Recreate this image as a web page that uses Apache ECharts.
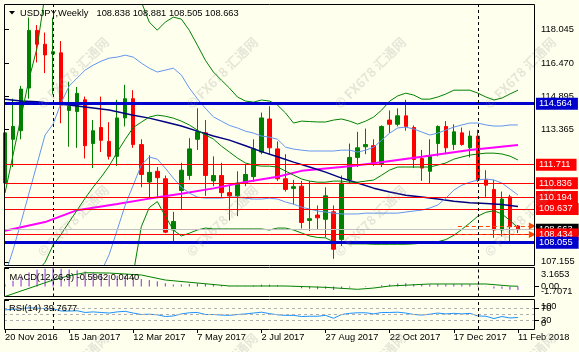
<!DOCTYPE html>
<html>
<head>
<meta charset="utf-8">
<title>USDJPY Weekly</title>
<script src="https://cdn.jsdelivr.net/npm/echarts/dist/echarts.min.js"></script>
<style>
  html, body { margin: 0; padding: 0; background: #ffffee; }
  #chart { width: 579px; height: 352px; }
</style>
</head>
<body>
<div id="chart"></div>
<script>
const FONT = '"Liberation Sans", Arial, sans-serif'
const FS = 9.3

const symbolName = 'USDJPY,Weekly'
const axisDates = ['20 Nov 2016', '15 Jan 2017', '12 Mar 2017', '7 May 2017', '2 Jul 2017',
  '27 Aug 2017', '22 Oct 2017', '17 Dec 2017', '11 Feb 2018']
const axisDateWeek = [0, 8, 16, 24, 32, 40, 48, 56, 64]
const yearMarks = [6, 59]

// weekly bars, week 0 = 20 Nov 2016
const opens = [110.85, 112.9, 113.3, 115.3, 118.0, 117.35, 116.9, 116.95, 114.25, 114.2,
  114.75, 112.7, 113.45, 112.8, 112.1, 113.9, 114.8, 112.65, 110.9, 111.4,
  111.05, 108.65, 110.5, 111.2, 112.9, 113.2, 110.95, 111.2, 110.4, 110.25,
  110.85, 111.15, 112.3, 113.85, 112.45, 111.05, 110.6, 110.7, 109.1, 109.35,
  109.15, 109.5, 108.2, 111.0, 112.05, 112.55, 112.6, 111.75, 113.8, 113.6,
  114.0, 113.45, 112.0, 111.4, 112.7, 113.5, 112.65, 113.2, 112.5, 113.05,
  111.0, 110.55, 108.65, 110.2, 108.838]
const highs = [113.9, 114.8, 115.4, 118.6, 118.25, 117.9, 118.6, 117.5, 115.6, 115.35,
  114.9, 113.8, 114.9, 113.7, 114.75, 115.45, 115.2, 112.9, 112.15, 111.6,
  111.2, 109.5, 111.8, 112.95, 114.35, 113.8, 112.1, 111.8, 110.75, 111.4,
  111.75, 112.9, 114.15, 114.45, 112.8, 112.2, 111.0, 110.95, 110.95, 109.8,
  110.65, 109.8, 111.2, 112.7, 113.25, 113.4, 112.9, 113.55, 114.25, 114.35,
  114.75, 113.55, 112.4, 112.9, 113.55, 113.75, 113.6, 113.45, 113.3, 113.35,
  111.45, 111.0, 110.45, 110.3, 108.881]
const lows = [110.25, 111.6, 112.9, 114.8, 116.5, 116.0, 115.0, 113.65, 112.55, 112.5,
  112.0, 111.55, 112.3, 111.95, 111.65, 113.5, 112.5, 110.65, 110.1, 110.2,
  108.5, 108.13, 109.6, 111.0, 112.4, 110.25, 110.7, 110.2, 109.1, 109.3,
  110.7, 110.9, 112.2, 112.2, 110.95, 110.45, 109.85, 108.72, 108.6, 108.65,
  108.3, 107.3, 107.9, 110.8, 111.6, 112.2, 111.65, 111.6, 113.2, 113.5,
  113.3, 111.55, 110.95, 110.85, 112.1, 112.2, 112.4, 112.6, 112.05, 110.9,
  110.2, 108.28, 108.35, 108.05, 108.505]
const closes = [113.2, 113.5, 115.25, 118.0, 117.35, 116.85, 117.0, 114.5, 114.45, 115.05,
  112.6, 113.3, 112.85, 112.1, 113.9, 114.8, 112.65, 111.25, 111.35, 111.1,
  108.55, 109.05, 111.45, 112.45, 113.25, 111.2, 111.2, 110.4, 110.25, 110.85,
  111.25, 112.45, 113.9, 112.5, 111.05, 110.55, 110.68, 109.0, 109.18, 109.22,
  110.25, 107.75, 110.85, 112.05, 112.5, 112.65, 111.8, 113.5, 113.6, 114.0,
  113.5, 111.95, 111.55, 112.1, 113.5, 112.5, 113.25, 112.65, 113.05, 111.0,
  110.75, 108.65, 110.1, 108.8, 108.663]

const priceTicks = [118.045, 116.470, 114.895, 113.365, 107.155]
const blueLevels = [114.564, 108.055]
const redLevels = [111.711, 110.836, 110.194, 109.637, 108.434]
const bidLevel = 108.663
const orderLevels = [108.838, 108.434]

// indicator lines, [week, price]
const bbUpper2 = [[0, 110.38], [1, 112.16], [2, 113.94], [3, 115.72], [4, 117.18], [5, 119.7], [6, 120.8],
  [8, 121.5], [11, 121.6], [14, 120.8], [16, 119.8], [17, 119.35], [18, 118.39], [19, 118.01], [20, 118.39],
  [21, 118.62], [22, 118.53], [23, 118.0], [24, 117.31], [25, 116.6], [26, 116.05], [27, 115.67], [28, 115.3],
  [29, 114.88], [30, 114.69], [31, 114.64], [32, 114.74], [33, 114.69], [34, 114.5], [35, 114.13], [36, 113.66],
  [37, 113.75], [38, 113.73], [39, 113.71], [40, 113.71], [41, 113.8], [42, 113.85], [43, 113.75], [44, 113.61],
  [45, 113.75], [46, 113.94], [47, 114.27], [48, 114.69], [49, 114.93], [50, 115.06], [51, 114.97], [52, 114.78],
  [53, 114.78], [54, 114.88], [55, 115.02], [56, 115.2], [57, 115.2], [58, 115.2], [59, 115.06], [60, 114.88],
  [61, 114.74], [62, 114.83], [63, 115.02], [64, 115.2]]
const bbMiddle = [[0, 104.6], [2, 105.6], [4, 106.7], [5, 107.14], [6, 107.94], [7, 108.45], [8, 109.02],
  [9, 109.58], [10, 110.14], [11, 110.66], [12, 111.13], [13, 111.65], [14, 112.3], [15, 112.9], [16, 113.45],
  [17, 113.7], [18, 113.94], [19, 114.03], [20, 113.98], [21, 113.89], [22, 113.75], [23, 113.57], [24, 113.33],
  [25, 113.1], [26, 112.91], [27, 112.58], [28, 112.3], [29, 112.02], [30, 111.79], [31, 111.69], [32, 111.64],
  [33, 111.64], [34, 111.6], [35, 111.41], [36, 111.22], [37, 111.04], [38, 110.94], [39, 110.89], [40, 110.89],
  [41, 110.94], [42, 110.94], [43, 110.89], [44, 110.89], [45, 110.94], [46, 110.99], [47, 111.22], [48, 111.46],
  [49, 111.6], [50, 111.6], [51, 111.6], [52, 111.6], [53, 111.6], [54, 111.69], [55, 111.79], [56, 111.97],
  [57, 112.07], [58, 112.16], [59, 112.21], [60, 112.25], [61, 112.25], [62, 112.21], [63, 112.11], [64, 111.93]]
const bbLower2 = [[16, 106.6], [17, 108.8], [18, 109.7], [19, 109.98], [20, 109.3], [21, 108.65], [22, 108.37],
  [23, 108.5], [24, 108.65], [25, 108.74], [26, 108.7], [27, 108.7], [28, 108.7], [29, 108.7], [30, 108.7],
  [31, 108.7], [32, 108.7], [33, 108.65], [34, 108.74], [35, 108.74], [36, 108.65], [37, 108.51], [38, 108.37],
  [39, 108.3], [40, 108.28], [41, 108.1], [42, 108.03], [43, 108.0], [44, 108.0], [45, 108.0], [46, 107.98],
  [47, 107.98], [48, 107.98], [49, 107.98], [50, 107.98], [51, 108.0], [52, 108.03], [53, 108.06], [54, 108.1],
  [55, 108.2], [56, 108.4], [57, 108.68], [58, 108.98], [59, 109.3], [60, 109.48], [61, 109.55], [62, 109.4],
  [63, 109.1], [64, 108.75]]
const bbUpper1 = [[0, 106.54], [1, 107.71], [2, 109.02], [3, 110.38], [4, 111.74], [5, 113.1], [6, 113.61],
  [7, 114.6], [8, 115.39], [9, 115.77], [10, 116.14], [11, 116.37], [12, 116.56], [13, 116.7], [14, 116.75],
  [15, 116.84], [16, 116.75], [17, 116.47], [18, 116.23], [19, 116.05], [20, 116.14], [21, 116.23], [22, 115.91],
  [23, 115.3], [24, 114.8], [25, 114.35], [26, 113.95], [27, 113.75], [28, 113.55], [29, 113.43], [30, 113.28],
  [31, 113.19], [32, 113.05], [33, 113.0], [34, 112.9], [35, 112.53], [36, 112.44], [37, 112.39], [38, 112.35],
  [39, 112.35], [40, 112.35], [41, 112.35], [42, 112.39], [43, 112.39], [44, 112.3], [45, 112.39], [46, 112.53],
  [47, 112.86], [48, 113.19], [49, 113.43], [50, 113.47], [51, 113.38], [52, 113.24], [53, 113.1], [54, 113.19],
  [55, 113.33], [56, 113.47], [57, 113.57], [58, 113.66], [59, 113.66], [60, 113.57], [61, 113.52], [62, 113.52],
  [63, 113.57], [64, 113.57]]
const bbLower1 = [[12, 106.7], [13, 107.5], [14, 108.65], [15, 109.82], [16, 110.75], [17, 111.69], [18, 112.07],
  [19, 111.97], [20, 111.55], [21, 111.08], [22, 110.66], [23, 110.38], [24, 110.19], [25, 110.14], [26, 110.14],
  [27, 110.14], [28, 110.19], [29, 110.19], [30, 110.14], [31, 110.1], [32, 110.1], [33, 110.14], [34, 110.1],
  [35, 109.96], [36, 109.86], [37, 109.72], [38, 109.63], [39, 109.54], [40, 109.49], [41, 109.44], [42, 109.4],
  [43, 109.4], [44, 109.4], [45, 109.44], [46, 109.44], [47, 109.44], [48, 109.44], [49, 109.44], [50, 109.49],
  [51, 109.54], [52, 109.58], [53, 109.68], [54, 109.82], [55, 110.14], [56, 110.52], [57, 110.75], [58, 110.89],
  [59, 110.99], [60, 111.04], [61, 110.99], [62, 110.85], [63, 110.57], [64, 110.29]]
const navyMA = [[0, 114.78], [2, 114.69], [4, 114.66], [6, 114.58], [8, 114.5], [10, 114.41], [13, 114.27],
  [16, 114.03], [18, 113.89], [20, 113.71], [22, 113.52], [24, 113.28], [26, 113.05], [28, 112.86], [30, 112.6],
  [32, 112.32], [34, 112.08], [36, 111.83], [38, 111.6], [40, 111.36], [42, 111.08], [44, 110.85], [46, 110.61],
  [48, 110.43], [50, 110.28], [52, 110.19], [54, 110.1], [56, 110.0], [58, 109.93], [60, 109.89], [62, 109.84],
  [64, 109.75]]
const magentaMA = [[0, 108.61], [5, 109.02], [9, 109.58], [14, 109.87], [18, 110.12], [22, 110.35], [26, 110.6],
  [30, 110.9], [34, 111.14], [37, 111.42], [43, 111.64], [46, 111.78], [52, 112.08], [58, 112.4], [64, 112.63]]

const macdMain = [0.35, 1.0, 1.7, 2.4, 2.85, 3.05, 3.1653, 3.05, 2.9, 2.8,
  2.55, 2.35, 2.15, 1.95, 1.85, 1.8, 1.6, 1.3, 1.1, 0.9,
  0.55, 0.35, 0.35, 0.45, 0.55, 0.45, 0.35, 0.2, 0.1, 0.05,
  0.05, 0.15, 0.3, 0.3, 0.2, 0.05, -0.1, -0.3, -0.4, -0.45,
  -0.4, -0.6, -0.4, -0.15, 0.0, 0.1, 0.05, 0.2, 0.35, 0.5,
  0.55, 0.45, 0.35, 0.35, 0.4, 0.35, 0.4, 0.35, 0.35, 0.15,
  -0.05, -0.35, -0.4, -0.55, -0.5962]
const macdSignal = [[0, -1.7071], [3, -0.3], [6, 1.11], [8, 1.85], [10, 2.36], [13, 2.3], [17, 1.97],
  [20, 1.11], [24, 0.6], [28, 0.09], [35, 0.09], [40, -0.14], [44, -0.48], [46, -0.26], [48, 0.09],
  [53, 0.43], [60, 0.43], [63, 0.09], [64, 0.044]]
const macdRange = [-1.7071, 3.1653]
const macdZero = [0]

const rsi = [66, 68, 70, 73, 72, 70, 70, 62, 62, 63,
  57, 59, 57, 55, 59, 61, 55, 50, 51, 49,
  43, 45, 52, 56, 57, 50, 50, 48, 47, 50,
  52, 55, 58, 53, 49, 47, 47, 43, 44, 44,
  47, 37, 50, 54, 56, 56, 52, 57, 57, 58,
  55, 50, 48, 51, 55, 52, 54, 52, 54, 45,
  44, 36, 43, 38, 39.7677]
const rsiLevels = [70, 50, 30]
const rsiTicks = [100, 50, 0]
const rsiLevelTicks = [70, 30]

const X_MIN = -0.125
const X_MAX = 66.125
const last = opens.length - 1
const near = (a, b) => Math.abs(a - b) < 1e-6

const chart = echarts.init(document.getElementById('chart'))

const separators = yearMarks.map(w => ({
  xAxis: w, lineStyle: { color: '#000', type: [3, 3], width: 1 }, label: { show: false }
}))
const level = (v, color, width) => ({
  yAxis: v, lineStyle: { color: color, width: width, type: 'solid' }, label: { backgroundColor: color }
})
const arrows = orderLevels.map(v => [
  { coord: [56.5, v], symbol: 'none', lineStyle: { color: '#ff4500', type: [4, 3], width: 1 }, label: { show: false } },
  { coord: [65.8, v], symbol: 'triangle', symbolSize: 7 }
])

const line = (data, color, width, axis) => ({
  type: 'line', data: data, xAxisIndex: axis, yAxisIndex: axis, symbol: 'none', silent: true,
  lineStyle: { color: color, width: width }, z: 3
})

const xAxisBase = i => ({
  type: 'value', gridIndex: i, min: X_MIN, max: X_MAX, show: false, splitLine: { show: false }
})
const yLabel = {
  color: '#000', fontSize: FS, fontFamily: FONT, margin: 6,
  showMinLabel: true, showMaxLabel: true, hideOverlap: false
}
const richEnds = {
  top: { padding: [12, 0, 0, 0], color: '#000', fontSize: FS, fontFamily: FONT },
  bot: { padding: [0, 0, 11, 0], color: '#000', fontSize: FS, fontFamily: FONT }
}
// right-hand scale for a panel, only showing the given values
const sideAxis = (grid, min, max, values, formatter) => ({
  type: 'value', gridIndex: grid, position: 'right', min: min, max: max,
  splitLine: { show: false }, axisLine: { show: false },
  axisTick: { show: true, length: 4, customValues: values, lineStyle: { color: '#000' } },
  axisLabel: Object.assign({ customValues: values, rich: richEnds, formatter: formatter }, yLabel)
})

const watermarks = []
;[73, 221, 369].forEach(y => {
  [73, 222, 370, 520].forEach(x => {
    watermarks.push({
      type: 'text', x: x, y: y, rotation: Math.PI / 4, z: 9, silent: true,
      style: {
        text: '© FX678 汇通网', fill: 'rgba(140,140,140,0.22)', align: 'center', verticalAlign: 'middle',
        fontSize: 13, fontWeight: 'bold', fontFamily: '"Noto Sans CJK SC", sans-serif'
      }
    })
  })
})

const option = {
  backgroundColor: '#ffffee',
  animation: false,
  textStyle: { fontFamily: FONT },
  grid: [
    { left: 4, right: 44, top: 5, height: 260 },
    { left: 4, right: 44, top: 268, height: 28.5 },
    { left: 4, right: 44, top: 300, height: 29 }
  ],
  xAxis: [
    xAxisBase(0),
    xAxisBase(1),
    {
      type: 'value', gridIndex: 2, min: X_MIN, max: X_MAX,
      splitLine: { show: false }, axisLine: { show: false },
      axisTick: { show: true, length: 4, customValues: axisDateWeek, lineStyle: { color: '#000' } },
      axisLabel: {
        customValues: axisDateWeek, align: 'left', margin: 4, color: '#000', fontSize: FS, fontFamily: FONT,
        showMinLabel: true, showMaxLabel: true, hideOverlap: false,
        formatter: v => axisDates[axisDateWeek.indexOf(v)]
      }
    }
  ],
  yAxis: [
    sideAxis(0, 107.01, 119.19, priceTicks, v => v.toFixed(3)),
    sideAxis(1, macdRange[0], macdRange[1], macdRange,
      v => near(v, macdRange[1]) ? '{top|' + v.toFixed(4) + '}' : '{bot|' + v.toFixed(4) + '}'),
    sideAxis(2, 0, 100, rsiTicks, v => v === 100 ? '{top|100}' : v === 0 ? '{bot|0}' : String(v)),
    sideAxis(1, macdRange[0], macdRange[1], macdZero, v => v.toFixed(2)),
    sideAxis(2, 0, 100, rsiLevelTicks, v => String(v))
  ],
  series: [
    {
      type: 'candlestick', xAxisIndex: 0, yAxisIndex: 0, silent: true, barWidth: 4,
      encode: { x: 0, y: [1, 2, 3, 4] },
      data: opens.map((o, i) => [i, o, closes[i], lows[i], highs[i]]),
      itemStyle: { color: '#008000', color0: '#ff0000', borderColor: '#008000', borderColor0: '#ff0000', borderWidth: 1 },
      markLine: {
        symbol: 'none', silent: true, animation: false, precision: 3,
        label: {
          show: true, position: 'end', distance: 1, color: '#fff', fontSize: FS, fontFamily: FONT,
          padding: [2, 6, 1, 3], formatter: p => Number(p.value).toFixed(3)
        },
        data: [level(bidLevel, '#000', 0)]
          .concat([{ yAxis: bidLevel, lineStyle: { color: '#c0c0c0', width: 1, type: 'solid' }, label: { show: false } }])
          .concat(redLevels.map(v => level(v, '#ff0000', 1)))
          .concat(blueLevels.map(v => level(v, '#0000cd', 3)))
          .concat(arrows)
          .concat(separators)
      }
    },
    line(magentaMA, '#ff00ff', 2, 0),
    line(navyMA, '#000080', 1.5, 0),
    line(bbUpper1, '#6495ed', 1, 0),
    line(bbLower1, '#6495ed', 1, 0),
    line(bbUpper2, '#008000', 1, 0),
    line(bbMiddle, '#008000', 1, 0),
    line(bbLower2, '#008000', 1, 0),
    {
      type: 'bar', xAxisIndex: 1, yAxisIndex: 1, silent: true, barWidth: 1,
      data: macdMain.map((v, i) => [i, v]),
      itemStyle: { color: '#8a2be2' },
      markLine: { symbol: 'none', silent: true, data: separators }
    },
    line(macdSignal, '#008000', 1, 1),
    Object.assign(line(rsi.map((v, i) => [i, v]), '#1e90ff', 1, 2), {
      markLine: {
        symbol: 'none', silent: true,
        data: rsiLevels.map(v => ({ yAxis: v, lineStyle: { color: '#b0b0b0', type: [3, 3], width: 1 }, label: { show: false } }))
          .concat(separators)
      }
    })
  ],
  graphic: [
    { type: 'rect', z: 10, silent: true, shape: { x: 4.5, y: 4.5, width: 530, height: 261 }, style: { fill: 'none', stroke: '#000', lineWidth: 1 } },
    { type: 'rect', z: 10, silent: true, shape: { x: 4.5, y: 267.5, width: 530, height: 29 }, style: { fill: 'none', stroke: '#000', lineWidth: 1 } },
    { type: 'rect', z: 10, silent: true, shape: { x: 4.5, y: 299.5, width: 530, height: 30 }, style: { fill: 'none', stroke: '#000', lineWidth: 1 } },
    { type: 'polygon', z: 10, silent: true, shape: { points: [[9, 11], [15, 11], [12, 14.5]] }, style: { fill: '#000' } },
    {
      type: 'text', z: 10, x: 20, y: 13, silent: true,
      style: { text: symbolName, fill: '#000', fontSize: FS, fontFamily: FONT, verticalAlign: 'middle' }
    },
    {
      type: 'text', z: 10, x: 96.5, y: 13, silent: true,
      style: {
        text: [opens[last], highs[last], lows[last], closes[last]].map(v => v.toFixed(3)).join(' '),
        fill: '#000', fontSize: FS, fontFamily: FONT, verticalAlign: 'middle'
      }
    },
    {
      type: 'text', z: 10, x: 9.5, y: 277, silent: true,
      style: {
        text: 'MACD(12,26,9) ' + macdMain[last].toFixed(4) + ' ' + macdSignal[macdSignal.length - 1][1].toFixed(4),
        fill: '#000', fontSize: FS, fontFamily: FONT, verticalAlign: 'middle'
      }
    },
    {
      type: 'text', z: 10, x: 9, y: 308, silent: true,
      style: { text: 'RSI(14) ' + rsi[last].toFixed(4), fill: '#000', fontSize: FS, fontFamily: FONT, verticalAlign: 'middle' }
    }
  ].concat(watermarks)
}

chart.setOption(option)
</script>
</body>
</html>
